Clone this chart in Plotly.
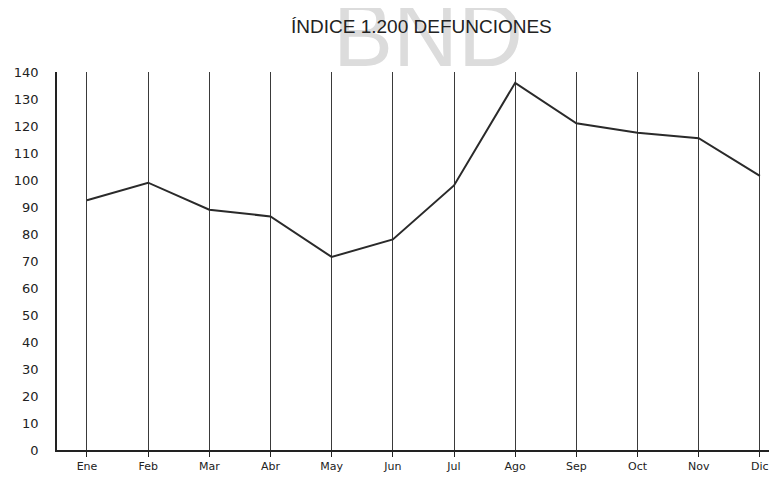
import plotly.graph_objects as go

months = ["Ene", "Feb", "Mar", "Abr", "May", "Jun", "Jul", "Ago", "Sep", "Oct", "Nov", "Dic"]
values = [92.5, 99, 89, 86.5, 71.5, 78, 98, 136, 121, 117.5, 115.5, 101.5]
y_ticks = list(range(0, 141, 10))
title_text = "ÍNDICE 1.200 DEFUNCIONES"
watermark = "BND"

x_idx = list(range(len(months)))

# page body has an 8px margin; compensate so the plot lands where the reference has it
OFF = 8
PLOT_W = 777 - 57
PLOT_H = 450 - 72
W, H = 777, 478
L, T = 57 - OFF, 72 - OFF
R = W - L - PLOT_W
B = H - T - PLOT_H


def px_to_paper(px, py):
    return (px - 57) / PLOT_W, 1 - (py - 72) / PLOT_H


fig = go.Figure()
fig.add_trace(go.Scatter(
    x=x_idx, y=values, mode="lines",
    line=dict(color="#2a2a2a", width=2),
    hoverinfo="skip", showlegend=False,
))

fig.update_layout(
    width=W, height=H,
    paper_bgcolor="white", plot_bgcolor="white",
    margin=dict(l=L, r=R, t=T, b=B, autoexpand=False),
    showlegend=False,
    xaxis=dict(
        range=[-0.49, 11.28],
        tickmode="array", tickvals=x_idx, ticktext=months,
        showgrid=True, gridcolor="#3a3a3a", gridwidth=1,
        showline=True, linecolor="#222", linewidth=2,
        ticks="outside", ticklen=5, tickcolor="#222", tickwidth=1,
        tickfont=dict(family="DejaVu Sans", size=11, color="#222"),
        zeroline=False, fixedrange=True,
    ),
    yaxis=dict(
        range=[0, 140],
        tickmode="array", tickvals=y_ticks,
        showgrid=False,
        showline=True, linecolor="#222", linewidth=1.5,
        ticks="outside", ticklen=14, tickcolor="rgba(0,0,0,0)",
        tickfont=dict(family="DejaVu Sans", size=13, color="#222"),
        zeroline=False, fixedrange=True,
    ),
)

bx, by = px_to_paper(428, 35)
fig.add_annotation(
    text=watermark, xref="paper", yref="paper",
    x=bx, y=by, xanchor="center", yanchor="middle", showarrow=False,
    font=dict(family="Liberation Sans, Arial", size=90, color="#dcdcdc"),
)
tx, ty = px_to_paper(421, 26)
fig.add_annotation(
    text=title_text, xref="paper", yref="paper",
    x=tx, y=ty, xanchor="center", yanchor="middle", showarrow=False,
    font=dict(family="Liberation Sans, Arial", size=19, color="#222"),
)

fig.write_html("out.html")
